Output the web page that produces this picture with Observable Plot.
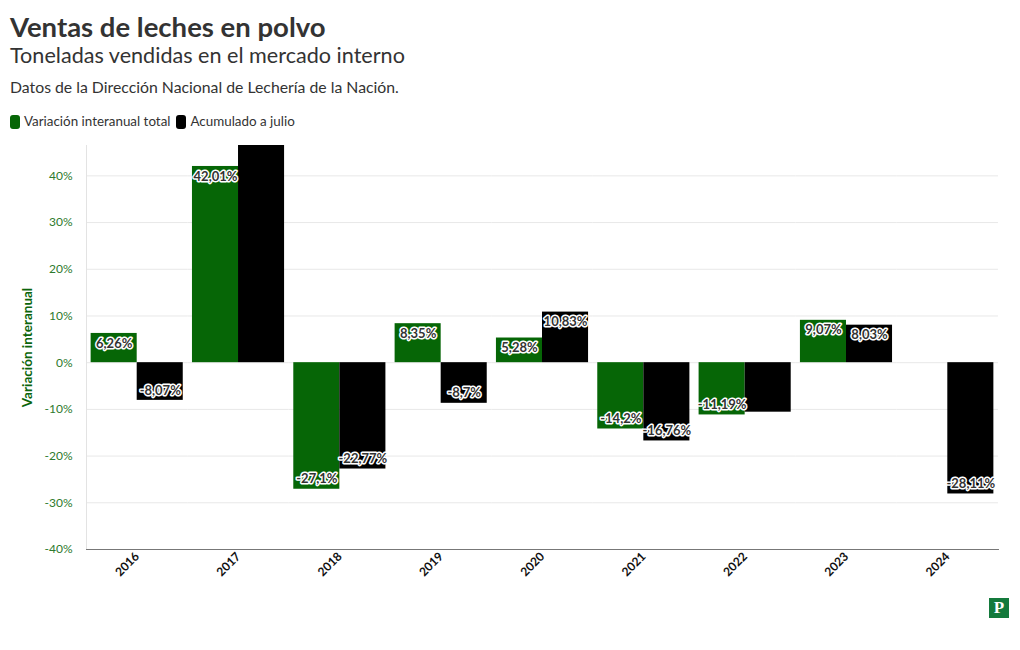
<!DOCTYPE html>
<html>
<head>
<meta charset="utf-8">
<script src="https://cdn.jsdelivr.net/npm/d3@7"></script>
<script src="https://cdn.jsdelivr.net/npm/@observablehq/plot@0.6"></script>
<style>
  html, body { margin: 0; padding: 0; background: white; }
  body { width: 1020px; height: 650px; position: relative; font-family: Lato, "Open Sans", sans-serif; color: #333; overflow: hidden; }
  .t { position: absolute; left: 10px; white-space: nowrap; line-height: 1; }
  #title { top: 13px; font-size: 27.5px; font-weight: 700; color: #333; }
  #subtitle { top: 45px; font-size: 21.6px; font-weight: 400; color: #333; }
  #caption { top: 79px; font-size: 15.8px; color: #333; }
  #legend { top: 115px; font-size: 13.4px; color: #333; display: flex; align-items: center; }
  #legend .item { display: flex; align-items: center; margin-right: 6px; }
  #legend .sw { width: 10px; height: 14px; border-radius: 3px; margin-right: 4px; }
  #chart { position: absolute; left: 0; top: 140px; }
  #logo { position: absolute; left: 989px; top: 598px; width: 20px; height: 20px; background: #147a3c; color: white;
          font-family: "Liberation Serif", serif; font-weight: 700; font-size: 17px; line-height: 20px; text-align: center; }
  g[aria-label="y-axis label"] text { font-weight: 700; fill: #0b650b; font-size: 13.5px; }
</style>
</head>
<body>
<div id="title" class="t">Ventas de leches en polvo</div>
<div id="subtitle" class="t">Toneladas vendidas en el mercado interno</div>
<div id="caption" class="t">Datos de la Dirección Nacional de Lechería de la Nación.</div>
<div id="legend" class="t"></div>
<div id="chart"></div>
<div id="logo">P</div>
<script>
// ---- data ----
const years = ["2016", "2017", "2018", "2019", "2020", "2021", "2022", "2023", "2024"];
const series = ["Variación interanual total", "Acumulado a julio"];
const colors = ["#066606", "#000000"];
const totalValues = [6.26, 42.01, -27.1, 8.35, 5.28, -14.2, -11.19, 9.07, null];
const julioValues = [-8.07, 50, -22.77, -8.7, 10.83, -16.76, -10.6, 8.03, -28.11];
const totalLabels = ["6,26%", "42,01%", "-27,1%", "8,35%", "5,28%", "-14,2%", "-11,19%", "9,07%", null];
const julioLabels = ["-8,07%", null, "-22,77%", "-8,7%", "10,83%", "-16,76%", null, "8,03%", "-28,11%"];
const yTicks = [-40, -30, -20, -10, 0, 10, 20, 30, 40];
const yLabel = "Variación interanual";

// legend
const legend = document.getElementById("legend");
series.forEach((s, i) => {
  const it = document.createElement("div");
  it.className = "item";
  it.innerHTML = `<span class="sw" style="background:${colors[i]}"></span><span>${s}</span>`;
  legend.appendChild(it);
});

const rows = [];
years.forEach((y, i) => {
  if (totalValues[i] != null) rows.push({year: y, serie: series[0], value: totalValues[i], label: totalLabels[i]});
  if (julioValues[i] != null) rows.push({year: y, serie: series[1], value: julioValues[i], label: julioLabels[i]});
});

const labelStyle = {fx: "year", x: "serie", y: "value", text: "label", fill: "#333", stroke: "white", strokeWidth: 3,
  fontWeight: "bold", fontSize: 13};

const chart = Plot.plot({
  width: 1020,
  height: 460,
  marginTop: 5,
  marginBottom: 51,
  marginLeft: 84,
  marginRight: 20,
  style: {fontFamily: "Lato, sans-serif", fontSize: "12px", color: "#111", background: "transparent", overflow: "visible"},
  fx: {domain: years, paddingInner: 0, paddingOuter: 0.02, label: null, axis: null, round: false},
  x: {domain: series, axis: null, paddingInner: 0, paddingOuter: 0.1, round: false},
  y: {domain: [-40, 46.5]},
  color: {domain: series, range: colors},
  marks: [
    Plot.gridY(yTicks, {stroke: "#e8e8e8", strokeOpacity: 1}),
    Plot.frame({anchor: "left", facetAnchor: "left", stroke: "#e3e3e3"}),
    Plot.axisY(yTicks, {tickSize: 0, tickPadding: 14, tickFormat: d => d + "%", fill: "#2e7a2e",
      label: yLabel, labelAnchor: "center", labelOffset: 64, labelArrow: "none"}),
    Plot.barY(rows, {fx: "year", x: "serie", y: "value", fill: "serie", clip: true}),
    Plot.text(rows.filter(d => d.label && d.value > 0), {...labelStyle, dy: 10}),
    Plot.text(rows.filter(d => d.label && d.value < 0), {...labelStyle, dy: -10}),
    Plot.frame({anchor: "bottom", stroke: "#777"}),
    Plot.axisFx({anchor: "bottom", tickRotate: -45, tickSize: 0, tickPadding: 5, fontWeight: "bold", fill: "#111", label: null})
  ]
});
document.getElementById("chart").appendChild(chart);
</script>
</body>
</html>
